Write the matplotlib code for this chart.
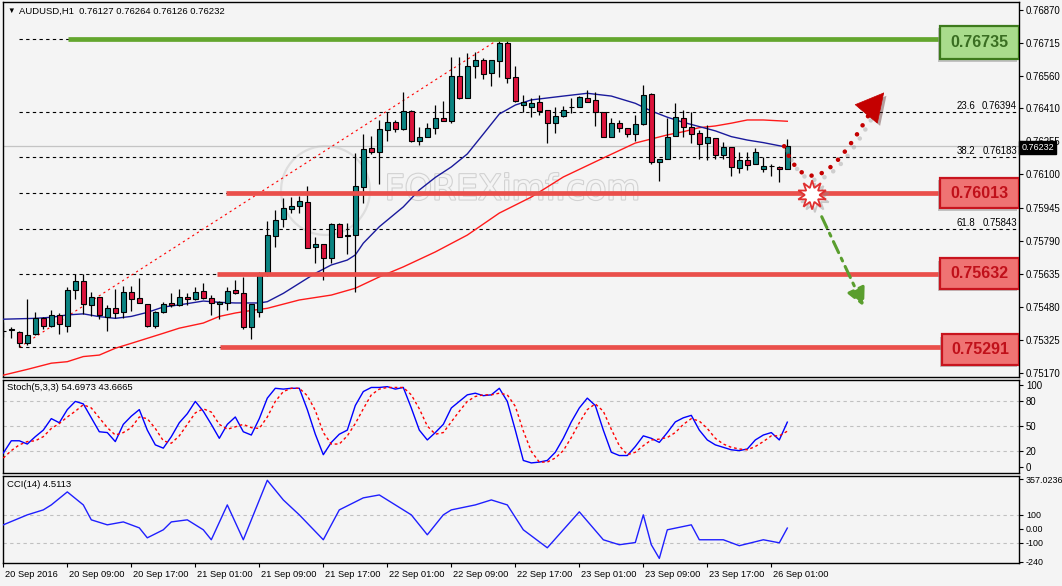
import numpy as np
import matplotlib
matplotlib.use('Agg')
import matplotlib.pyplot as plt
from matplotlib.patches import Rectangle, PathPatch
from matplotlib.path import Path
import matplotlib.transforms as mtransforms
import matplotlib.patheffects as pe

plt.rcParams['font.family'] = ['Liberation Sans', 'DejaVu Sans']

# ---------------- data ----------------
opens = [0.75367, 0.75376, 0.75364, 0.75312, 0.75351, 0.75429, 0.75392, 0.75440, 0.75392, 0.75558,
         0.75601, 0.75487, 0.75525, 0.75434, 0.75473, 0.75454, 0.75550, 0.75520, 0.75492, 0.75392,
         0.75454, 0.75500, 0.75487, 0.75525, 0.75518, 0.75553, 0.75520, 0.75493, 0.75497, 0.75558,
         0.75543, 0.75387, 0.75454, 0.75629, 0.75813, 0.75891, 0.75940, 0.75954, 0.75971, 0.75760,
         0.75774, 0.75710, 0.75868, 0.75813, 0.75816, 0.76041, 0.76224, 0.76205, 0.76308, 0.76344,
         0.76311, 0.76396, 0.76258, 0.76274, 0.76316, 0.76364, 0.76350, 0.76561, 0.76459, 0.76609,
         0.76636, 0.76574, 0.76633, 0.76717, 0.76555, 0.76425, 0.76417, 0.76439, 0.76402, 0.76342,
         0.76374, 0.76416, 0.76417, 0.76457, 0.76449, 0.76391, 0.76277, 0.76340, 0.76316, 0.76289,
         0.76335, 0.76477, 0.76160, 0.76172, 0.76280, 0.76363, 0.76321, 0.76296, 0.76246, 0.76269,
         0.76191, 0.76227, 0.76129, 0.76168, 0.76149, 0.76124, 0.76138, 0.76137, 0.76127]
highs = [0.75410, 0.75387, 0.75366, 0.75517, 0.75454, 0.75430, 0.75465, 0.75450, 0.75574, 0.75632,
         0.75632, 0.75551, 0.75526, 0.75487, 0.75564, 0.75578, 0.75578, 0.75614, 0.75493, 0.75459,
         0.75503, 0.75543, 0.75562, 0.75543, 0.75572, 0.75590, 0.75535, 0.75507, 0.75574, 0.75606,
         0.75621, 0.75494, 0.75645, 0.75882, 0.75934, 0.75990, 0.75996, 0.76000, 0.76047, 0.75807,
         0.75775, 0.75874, 0.75874, 0.75874, 0.76200, 0.76289, 0.76280, 0.76355, 0.76394, 0.76355,
         0.76486, 0.76402, 0.76321, 0.76340, 0.76425, 0.76445, 0.76651, 0.76651, 0.76670, 0.76675,
         0.76644, 0.76636, 0.76735, 0.76733, 0.76608, 0.76472, 0.76458, 0.76472, 0.76402, 0.76417,
         0.76421, 0.76457, 0.76467, 0.76496, 0.76488, 0.76392, 0.76363, 0.76355, 0.76317, 0.76378,
         0.76519, 0.76479, 0.76173, 0.76363, 0.76436, 0.76402, 0.76394, 0.76308, 0.76332, 0.76270,
         0.76253, 0.76228, 0.76207, 0.76207, 0.76222, 0.76183, 0.76149, 0.76140, 0.76264]
lows = [0.75340, 0.75333, 0.75291, 0.75301, 0.75349, 0.75375, 0.75387, 0.75354, 0.75364, 0.75518,
        0.75445, 0.75437, 0.75422, 0.75368, 0.75426, 0.75429, 0.75461, 0.75496, 0.75387, 0.75382,
        0.75450, 0.75481, 0.75484, 0.75487, 0.75513, 0.75515, 0.75440, 0.75424, 0.75465, 0.75542,
        0.75375, 0.75328, 0.75431, 0.75624, 0.75762, 0.75854, 0.75919, 0.75919, 0.75756, 0.75687,
        0.75606, 0.75687, 0.75806, 0.75728, 0.75550, 0.75968, 0.76196, 0.76055, 0.76258, 0.76300,
        0.76310, 0.76253, 0.76238, 0.76273, 0.76289, 0.76351, 0.76340, 0.76452, 0.76459, 0.76553,
        0.76547, 0.76516, 0.76558, 0.76527, 0.76441, 0.76393, 0.76369, 0.76378, 0.76249, 0.76293,
        0.76371, 0.76386, 0.76416, 0.76439, 0.76328, 0.76274, 0.76274, 0.76300, 0.76277, 0.76257,
        0.76332, 0.76149, 0.76071, 0.76171, 0.76279, 0.76277, 0.76246, 0.76171, 0.76168, 0.76172,
        0.76171, 0.76094, 0.76105, 0.76121, 0.76148, 0.76113, 0.76093, 0.76066, 0.76126]
closes = [0.75365, 0.75372, 0.75312, 0.75347, 0.75429, 0.75392, 0.75440, 0.75400, 0.75559, 0.75601,
          0.75493, 0.75525, 0.75440, 0.75473, 0.75450, 0.75550, 0.75515, 0.75497, 0.75392, 0.75454,
          0.75492, 0.75487, 0.75525, 0.75515, 0.75550, 0.75520, 0.75497, 0.75501, 0.75553, 0.75543,
          0.75387, 0.75493, 0.75629, 0.75816, 0.75887, 0.75943, 0.75952, 0.75976, 0.75757, 0.75774,
          0.75710, 0.75868, 0.75807, 0.75815, 0.76046, 0.76219, 0.76204, 0.76311, 0.76344, 0.76311,
          0.76396, 0.76257, 0.76274, 0.76316, 0.76363, 0.76352, 0.76561, 0.76459, 0.76608, 0.76636,
          0.76569, 0.76636, 0.76717, 0.76553, 0.76445, 0.76439, 0.76435, 0.76399, 0.76341, 0.76374,
          0.76402, 0.76418, 0.76464, 0.76441, 0.76391, 0.76277, 0.76340, 0.76319, 0.76289, 0.76335,
          0.76472, 0.76160, 0.76172, 0.76277, 0.76368, 0.76321, 0.76289, 0.76243, 0.76274, 0.76191,
          0.76227, 0.76136, 0.76168, 0.76144, 0.76204, 0.76140, 0.76139, 0.76124, 0.76232]

ma_fast_idx = [0, 4, 6, 8, 10, 12, 14, 16, 18, 20, 22, 25, 27, 29, 32, 33, 35, 37, 39, 41,
               43, 44, 45, 47, 50, 52, 54, 56, 58, 60, 62, 64, 66, 70, 73, 76, 79, 81, 83, 85,
               87, 89, 91, 93, 95, 98]
ma_fast_val = [0.75422, 0.75426, 0.75431, 0.75442, 0.75447, 0.75434, 0.75426, 0.75435, 0.75454, 0.75479,
               0.75489, 0.75507, 0.75501, 0.75498, 0.75498, 0.75504, 0.75543, 0.75590, 0.75637, 0.75676,
               0.75699, 0.75723, 0.75778, 0.75855, 0.75948, 0.76027, 0.76086, 0.76135, 0.76196, 0.76289,
               0.76383, 0.76425, 0.76449, 0.76467, 0.76480, 0.76467, 0.76433, 0.76397, 0.76368, 0.76344,
               0.76324, 0.76304, 0.76277, 0.76261, 0.76249, 0.76227]
ma_slow_idx = [0, 3, 6, 8, 10, 12, 14, 16, 20, 22, 25, 27, 29, 31, 33, 37, 41, 44, 47, 50,
               54, 58, 62, 66, 70, 75, 79, 81, 83, 85, 87, 89, 91, 93, 95, 98]
ma_slow_val = [0.75160, 0.75187, 0.75216, 0.75223, 0.75247, 0.75254, 0.75286, 0.75309, 0.75356, 0.75380,
               0.75404, 0.75435, 0.75451, 0.75463, 0.75473, 0.75512, 0.75535, 0.75567, 0.75620, 0.75667,
               0.75737, 0.75816, 0.75919, 0.75994, 0.76088, 0.76177, 0.76247, 0.76266, 0.76285, 0.76300,
               0.76319, 0.76327, 0.76340, 0.76355, 0.76355, 0.76349]

stoch_k = [17, 32, 32, 28, 37, 45, 59, 54, 70, 80, 77, 60, 43, 42, 31, 52, 62, 70, 45, 27,
           23, 37, 54, 65, 80, 68, 52, 35, 52, 61, 43, 39, 59, 84, 96, 95, 96, 96, 70, 40,
           15, 30, 40, 45, 75, 92, 97, 97, 98, 95, 97, 72, 45, 33, 42, 52, 72, 80, 88, 90,
           87, 88, 96, 80, 45, 8, 5, 6, 8, 18, 35, 55, 72, 84, 75, 45, 18, 14, 14, 25,
           38, 35, 30, 42, 55, 60, 63, 45, 33, 27, 24, 21, 20, 22, 33, 39, 42, 33, 54.6973]
stoch_d = [11, 20, 27, 31, 32, 37, 47, 53, 61, 68, 76, 72, 60, 48, 39, 42, 48, 61, 59, 47,
           32, 29, 38, 52, 66, 71, 67, 52, 46, 49, 52, 48, 47, 61, 80, 92, 96, 96, 87, 69,
           42, 28, 28, 38, 53, 71, 88, 95, 97, 97, 97, 88, 71, 50, 40, 42, 55, 68, 80, 86,
           88, 88, 90, 88, 74, 44, 19, 6, 6, 11, 20, 36, 54, 70, 77, 68, 46, 26, 15, 18,
           26, 33, 34, 36, 42, 52, 59, 56, 47, 35, 28, 24, 22, 21, 25, 31, 38, 38, 43.6665]

cci_idx = [0, 3, 5, 6, 8, 10, 11, 13, 15, 17, 18, 20, 21, 23, 25, 26, 28, 30, 33, 35,
           37, 40, 42, 45, 47, 49, 51, 53, 55, 56, 59, 61, 63, 65, 68, 70, 72, 75, 77, 79,
           80, 81, 82, 83, 86, 87, 90, 92, 95, 97, 98]
cci_val = [28, 100, 136, 172, 266, 172, 64, 28, 49, 6, -66, -8, 49, 64, -8, -80, 172, -80, 350, 208,
           100, -80, 136, 223, 244, 172, 100, -44, 100, 136, 172, 208, 172, -8, -138, -8, 122, -80, -116, -100,
           100, -116, -215, -8, 28, -80, -80, -123, -80, -102, 4.5113]

fib_levels = [0.76735, 0.76394, 0.76183, 0.76013, 0.75843, 0.75632, 0.75291]
fib_named = [('23.6', 0.76394), ('38.2', 0.76183), ('61.8', 0.75843)]
key_levels = [0.76735, 0.76013, 0.75632, 0.75291]
price_ticks = [0.76870, 0.76715, 0.76560, 0.76410, 0.76255, 0.76100, 0.75945, 0.75790,
               0.75635, 0.75480, 0.75325, 0.75170]
time_idx = [0, 8, 16, 24, 32, 40, 48, 56, 64, 72, 80, 88, 96]
time_labels = ['20 Sep 2016', '20 Sep 09:00', '20 Sep 17:00', '21 Sep 01:00', '21 Sep 09:00',
               '21 Sep 17:00', '22 Sep 01:00', '22 Sep 09:00', '22 Sep 17:00', '23 Sep 01:00',
               '23 Sep 09:00', '23 Sep 17:00', '26 Sep 01:00']
last_price = 0.76232

# ---------------- layout ----------------
W, H = 1062, 586
BG = '#f4f4f4'
fig = plt.figure(figsize=(W / 100, H / 100), dpi=100)
fig.patch.set_facecolor(BG)


def rect(x0, y0, x1, y1):
    return [x0 / W, 1 - y1 / H, (x1 - x0) / W, (y1 - y0) / H]


ax = fig.add_axes(rect(2.5, 2, 1019, 377))
axs = fig.add_axes(rect(2.5, 380, 1019, 473))
axc = fig.add_axes(rect(2.5, 476, 1019, 563))
XMIN, XMAX = -0.1, 126.96
for a in (ax, axs, axc):
    a.set_facecolor(BG)
    a.set_xlim(XMIN, XMAX)
    for s in a.spines.values():
        s.set_linewidth(1.0)
        s.set_color('black')
    a.yaxis.tick_right()
    a.tick_params(axis='y', direction='out', length=3, width=0.8, pad=2,
                  labelsize=6.9, colors='black')
    a.tick_params(axis='x', bottom=False, labelbottom=False)

# ---------------- main panel ----------------
ax.set_ylim(0.751513, 0.769075)
ax.set_yticks(price_ticks)
ax.set_yticklabels([f'{v:.5f}' for v in price_ticks])

trans = mtransforms.blended_transform_factory(ax.transAxes, ax.transData)

# watermark
ax.plot([40.2], [0.76027], marker='o', ms=64, mfc='none', mec='#dedede', mew=1.6, zorder=1)
ax.text(0.376, 0.50, 'FOREXimf.com', transform=ax.transAxes, fontsize=25, color=BG,
        va='center', ha='left', zorder=1, family='DejaVu Sans',
        path_effects=[pe.withStroke(linewidth=1.6, foreground='#d2d2d2')])

ax.axhline(last_price, color='#c4c4c4', lw=0.9, zorder=1)

ax.hlines(fib_levels, 2, XMAX, colors='black', linestyles=(0, (3, 3)), lw=0.8, zorder=2)
ax.plot([2, 62], [0.75291, 0.76735], color='red', lw=0.8, ls=(0, (2, 3)), zorder=2)
for name, lev in fib_named:
    ax.text(0.9567, lev + 0.00004, name, transform=trans, ha='right', va='bottom', fontsize=6.9)
    ax.text(0.998, lev + 0.00004, f'{lev:.5f}', transform=trans, ha='right', va='bottom', fontsize=6.9)

ax.plot(ma_slow_idx, ma_slow_val, color='#ff1a1a', lw=1.0, zorder=3)
ax.plot(ma_fast_idx, ma_fast_val, color='#1a1a9c', lw=1.0, zorder=3)

o = np.array(opens); h = np.array(highs); l = np.array(lows); c = np.array(closes)
h = np.maximum(h, np.maximum(o, c)); l = np.minimum(l, np.minimum(o, c))
x = np.arange(len(o))
up = c >= o
ax.vlines(x, l, h, color='black', lw=0.9, zorder=4)
body_lo = np.minimum(o, c)
body_h = np.maximum(np.abs(c - o), 0.000012)
ax.bar(x, body_h, bottom=body_lo, width=0.66, color=np.where(up, '#0b8482', '#dc143c'),
       edgecolor='black', linewidth=0.8, zorder=5)

# key level lines and boxes
line_starts = [8.1, 27.8, 26.7, 27.1]
line_colors = ['#63a62e', '#ea4f4b', '#ea4f4b', '#ea4f4b']
box_centers = [0.76718, 0.76013, 0.75636, 0.75280]
box_heights = [0.00155, 0.00145, 0.00145, 0.00145]
box_x0 = [0.9223, 0.9223, 0.9223, 0.9243]
face = ['#a9dc8c', '#ef7373', '#ef7373', '#ef7373']
edge = ['#3d7a1c', '#c8141e', '#c8141e', '#c8141e']
tcol = ['#3a6e22', '#c0101a', '#c0101a', '#c0101a']
shadow_off = mtransforms.ScaledTranslation(-2.5 / 100, -2.5 / 100, fig.dpi_scale_trans)
for lev, xs, lc, bc, bh, bx, fc, ec, tc in zip(key_levels, line_starts, line_colors, box_centers,
                                               box_heights, box_x0, face, edge, tcol):
    ax.hlines(lev, xs, 117.2, colors=lc, lw=3.4, zorder=6)
    ax.add_patch(Rectangle((bx, bc - bh / 2), 1.0 - bx, bh, transform=trans + shadow_off,
                           facecolor='#9a9a9a', edgecolor='none', alpha=0.55, zorder=6.5))
    ax.add_patch(Rectangle((bx, bc - bh / 2), 1.0 - bx, bh, transform=trans,
                           facecolor=fc, edgecolor=ec, lw=1.6, zorder=7))
    ax.text((bx + 1.0) / 2, bc, f'{lev:.5f}', transform=trans, ha='center', va='center',
            fontsize=11.5, fontweight='bold', color=tc, zorder=8)

# forecast arrows
curve = Path([(97.6, 0.76232), (100.0, 0.76020), (103.0, 0.76040), (108.2, 0.76380)],
             [Path.MOVETO, Path.CURVE4, Path.CURVE4, Path.CURVE4])
cp = PathPatch(curve, fill=False, edgecolor='#c40000', lw=3.3, linestyle=(0, (0.01, 2.3)),
               capstyle='round', zorder=9,
               path_effects=[pe.SimpleLineShadow(offset=(2, -3), shadow_color='#888888', alpha=0.35),
                             pe.Normal()])
ax.add_patch(cp)
ax.annotate('', xy=(110.1, 0.76484), xytext=(107.9, 0.76385),
            arrowprops=dict(arrowstyle='-|>,head_length=0.85,head_width=0.45', mutation_scale=23,
                            color='#c40000', lw=0.5, shrinkA=0, shrinkB=0,
                            path_effects=[pe.SimplePatchShadow(offset=(2, -2), alpha=0.35), pe.Normal()]),
            zorder=9)
ax.annotate('', xy=(107.6, 0.75480), xytext=(102.3, 0.75902),
            arrowprops=dict(arrowstyle='-|>,head_length=0.7,head_width=0.35', mutation_scale=16,
                            color='#5a9e2e', lw=2.2, linestyle=(0, (4, 2, 1, 2)),
                            shrinkA=0, shrinkB=0), zorder=9)
ax.plot([101.1], [0.76004], marker=(10, 1, 0), ms=21, mfc='white', mec='#e03030', mew=1.3,
        zorder=10, path_effects=[pe.SimpleLineShadow(offset=(2, -2), shadow_color='#888888', alpha=0.4),
                                 pe.Normal()])

# ---------------- stochastic ----------------
axs.set_ylim(-7.3, 106.1)
axs.set_yticks([100, 80, 50, 20, 0])
axs.set_yticklabels(['100', '80', '50', '20', '0'])
axs.hlines([80, 50, 20], XMIN, XMAX, colors='#c0c0c0', linestyles=(0, (3, 3)), lw=0.8)
axs.plot(np.arange(len(stoch_k)), stoch_k, color='#0000ff', lw=1.0, zorder=3)
axs.plot(np.arange(len(stoch_d)), stoch_d, color='#ff0000', lw=1.0, ls=(0, (2, 2)), zorder=3)
axs.text(0.0044, 0.915, 'Stoch(5,3,3) 54.6973 43.6665', transform=axs.transAxes,
         fontsize=6.8, va='center', ha='left')

# ---------------- CCI ----------------
axc.set_ylim(-248, 381)
axc.set_yticks([357.0236, 100, 0, -100, -240])
axc.set_yticklabels(['357.0236', '100', '0.00', '-100', '-240'])
axc.tick_params(axis='y', labelsize=6.4)
axc.hlines([100, -100], XMIN, XMAX, colors='#c0c0c0', linestyles=(0, (3, 3)), lw=0.8)
axc.plot(cci_idx, cci_val, color='#1f1fff', lw=1.0, zorder=3)
axc.text(0.0044, 0.908, 'CCI(14) 4.5113', transform=axc.transAxes,
         fontsize=6.8, va='center', ha='left')

axc.set_xticks(time_idx)
axc.set_xticklabels(time_labels)
axc.tick_params(axis='x', bottom=True, labelbottom=True, direction='out', length=3, width=0.8,
                labelsize=6.7, pad=2, colors='black')
lab_off = mtransforms.ScaledTranslation(1.5 / 100, 0, fig.dpi_scale_trans)
for lab in axc.get_xticklabels():
    lab.set_ha('left')
    lab.set_transform(lab.get_transform() + lab_off)

# ---------------- header & price tag ----------------
fig.text(7 / W, 1 - 11 / H, '\u25bc', fontsize=5.5, va='center', ha='left')
fig.text(19 / W, 1 - 11 / H, 'AUDUSD,H1  0.76127 0.76264 0.76126 0.76232', fontsize=6.8,
         va='center', ha='left')
fig.text(1021.5 / W, 1 - 147.7 / H, f'{last_price:.5f}', color='white', fontsize=6.5,
         va='center', ha='left', zorder=20,
         bbox=dict(boxstyle='square,pad=0.25', fc='black', ec='black'))

fig.savefig('out.png', dpi=100, facecolor=BG)
